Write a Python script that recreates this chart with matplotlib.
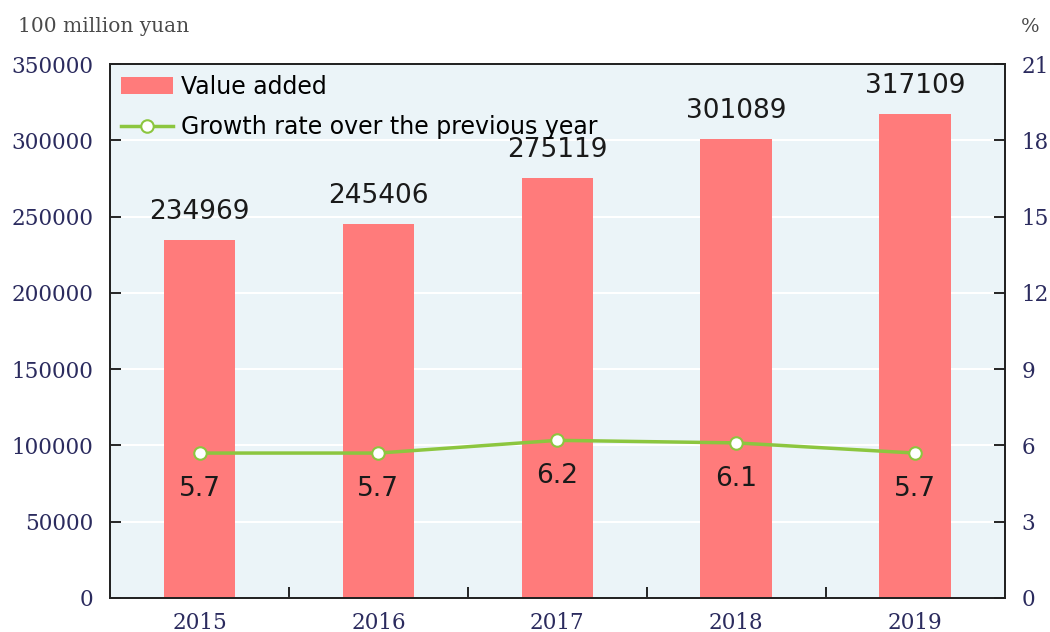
import numpy as np
import matplotlib.pyplot as plt

years = ["2015", "2016", "2017", "2018", "2019"]
value_added = [234969, 245406, 275119, 301089, 317109]
growth = [5.7, 5.7, 6.2, 6.1, 5.7]

bar_color = "#FF7B7B"
line_color = "#8CC63F"
bg_color = "#EBF4F8"
tick_color = "#2B2B5E"

fig = plt.figure(figsize=(10.5, 6.32), dpi=100)
ax1 = fig.add_axes([0.1048, 0.0538, 0.852, 0.8449])
ax2 = ax1.twinx()

x = np.arange(len(years))

ax1.set_facecolor(bg_color)
ax1.set_axisbelow(True)
ax1.grid(axis="y", color="white", linewidth=1.5)
bars = ax1.bar(x, value_added, width=0.4, color=bar_color, label="Value added", zorder=2)
ax1.set_xlim(-0.5, len(years) - 0.5)
ax1.set_ylim(0, 350000)
ax1.set_yticks(np.arange(0, 350001, 50000))

for xi, v in zip(x, value_added):
    ax1.annotate(str(v), (xi, v), xytext=(0, 20), textcoords="offset points",
                 ha="center", va="center", fontsize=19, color="#1a1a1a",
                 family="DejaVu Sans")

line, = ax2.plot(x, growth, color=line_color, linewidth=2.5, marker="o",
                 markersize=9, markerfacecolor="white", markeredgecolor=line_color,
                 markeredgewidth=1.5, label="Growth rate over the previous year", zorder=3)
ax2.set_ylim(0, 21)
ax2.set_yticks(np.arange(0, 22, 3))
for xi, g in zip(x, growth):
    ax2.annotate(f"{g}", (xi, g), xytext=(0, -26), textcoords="offset points",
                 ha="center", va="center", fontsize=19, color="#1a1a1a",
                 family="DejaVu Sans")

# x ticks: labels at categories, tick marks between them
ax1.set_xticks(x)
ax1.set_xticklabels(years)
ax1.set_xticks(np.arange(0.5, len(years) - 0.5, 1), minor=True)
ax1.tick_params(axis="x", which="major", length=0, pad=10)
ax1.tick_params(axis="x", which="minor", direction="in", length=8, width=1.2)

ax1.tick_params(axis="y", direction="in", length=8, width=1.2, pad=12)
ax2.tick_params(axis="y", direction="in", length=8, width=1.2, pad=12)

for ax in (ax1, ax2):
    for lbl in ax.get_xticklabels() + ax.get_yticklabels():
        lbl.set_family("DejaVu Serif")
        lbl.set_fontsize(15.5)
        lbl.set_color(tick_color)
    for s in ax.spines.values():
        s.set_linewidth(1.3)
        s.set_color("#222222")

fig.text(0.017, 0.958, "100 million yuan", family="DejaVu Serif", fontsize=14.5,
         color="#4a4a4a", va="center", ha="left")
fig.text(0.981, 0.958, "%", family="DejaVu Serif", fontsize=14,
         color="#4a4a4a", va="center", ha="center")

ax1.legend([bars, line], ["Value added", "Growth rate over the previous year"],
           loc="upper left", frameon=False, handlelength=2.2,
           borderaxespad=0.3, borderpad=0.15, labelspacing=0.7, handletextpad=0.35,
           prop={"family": "DejaVu Sans", "size": 17})

fig.savefig("out.png", dpi=100)
